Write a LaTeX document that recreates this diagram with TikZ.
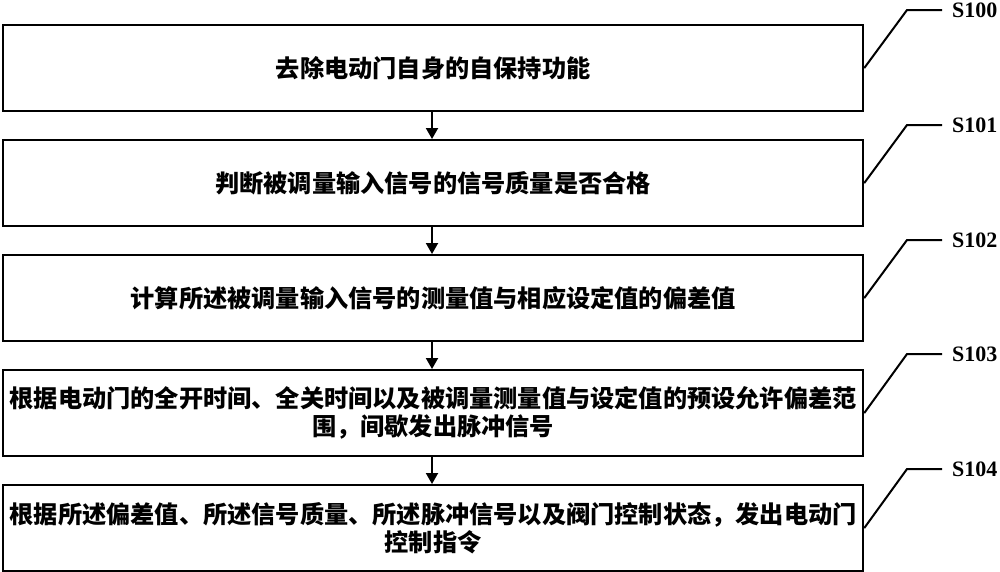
\documentclass[tikz,border=0pt]{standalone}
\usepackage{fontspec}
\setmainfont{Liberation Serif}
\newfontfamily\cjk{Noto Sans CJK SC}
\usetikzlibrary{arrows.meta}
\begin{document}
\begin{tikzpicture}[x=1pt,y=-1pt,
  stepbox/.style={draw,line width=2.2pt,minimum width=860pt,minimum height=86pt,inner sep=0pt,
    font=\cjk\bfseries\fontsize{24.2}{28.5}\selectfont,align=center,anchor=north west},
  flow/.style={line width=2pt,-{Triangle[length=11pt,width=12pt]}},
  leader/.style={line width=2pt},
  lab/.style={font=\bfseries\fontsize{22}{24}\selectfont,anchor=west,inner sep=0pt}]
\useasboundingbox (0,0) rectangle (1000,571);
\node[stepbox] (b0) at (2,24) {去除电动门自身的自保持功能};
\node[stepbox] (b1) at (2,139) {判断被调量输入信号的信号质量是否合格};
\node[stepbox] (b2) at (2,254) {计算所述被调量输入信号的测量值与相应设定值的偏差值};
\node[stepbox] (b3) at (2,369) {根据电动门的全开时间、全关时间以及被调量测量值与设定值的预设允许偏差范\\围，间歇发出脉冲信号};
\node[stepbox] (b4) at (2,484) {根据所述偏差值、所述信号质量、所述脉冲信号以及阀门控制状态，发出电动门\\控制指令};
\foreach \a/\b in {b0/b1,b1/b2,b2/b3,b3/b4}{
  \draw[flow] (\a.south -| 432,0) -- (\b.north -| 432,0);
}
\foreach \i/\y/\t in {0/10/S100,1/125/S101,2/240/S102,3/354/S103,4/469/S104}{
  \coordinate (k\i) at (907,\y);
  \coordinate (e\i) at (942,\y);
  \draw[leader] (b\i.east) -- (k\i) -- (e\i);
  \node[lab] (l\i) at (952,\y) {\t};
}
\end{tikzpicture}
\end{document}
